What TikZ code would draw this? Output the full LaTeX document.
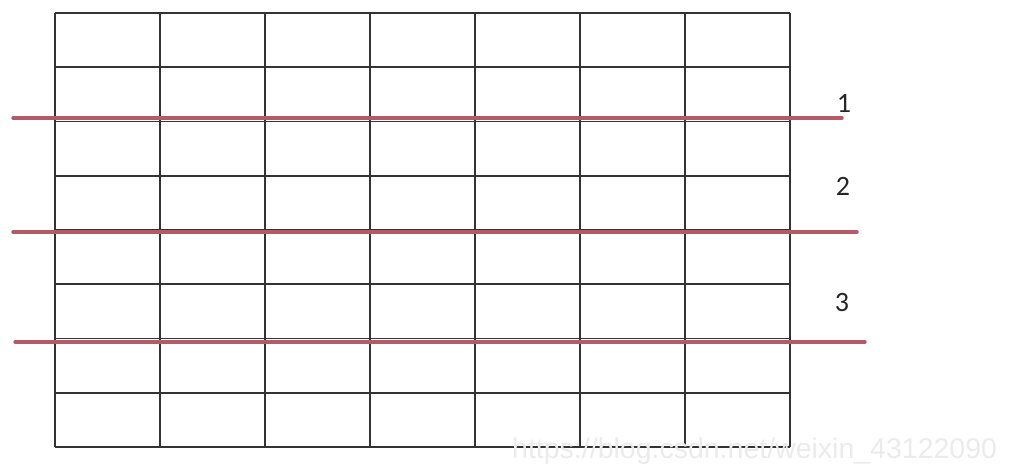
\documentclass[tikz,border=0pt]{standalone}
\usepackage{fontspec}
\setmainfont{Carlito}
\newfontfamily\markfont{Liberation Sans}
\definecolor{cutred}{HTML}{B45A66}

\begin{document}
\begin{tikzpicture}[x=1pt,y=-1pt,
  cell/.style={draw=black!80,line width=1.6pt},
  cut/.style={draw=cutred,line width=3.4pt,line cap=round},
  label/.style={font=\fontsize{28}{28}\selectfont,text=black!85,inner sep=0pt},
  watermark/.style={font=\markfont\fontsize{28.5}{28.5}\selectfont,text=black!8,inner sep=0pt,anchor=base west},
]
\useasboundingbox (0,0) rectangle (1011,463);
% grid 7 x 8
\foreach \i in {0,...,7}
  \draw[cell] (55+105*\i,13) -- (55+105*\i,447);
\foreach \j in {0,...,8}
  \draw[cell] (55,13+54.25*\j) -- (790,13+54.25*\j);
% cutting lines
\draw[cut] (13,118) -- (842,118);
\draw[cut] (13,232) -- (857,232);
\draw[cut] (15,342) -- (865,342);
\node[label] (one) at (844,103) {1};
\node[label] (two) at (843,186) {2};
\node[label] (three) at (842,303) {3};
\node[watermark] (url) at (512,458) {https://blog.csdn.net/weixin\_43122090};
\end{tikzpicture}
\end{document}
